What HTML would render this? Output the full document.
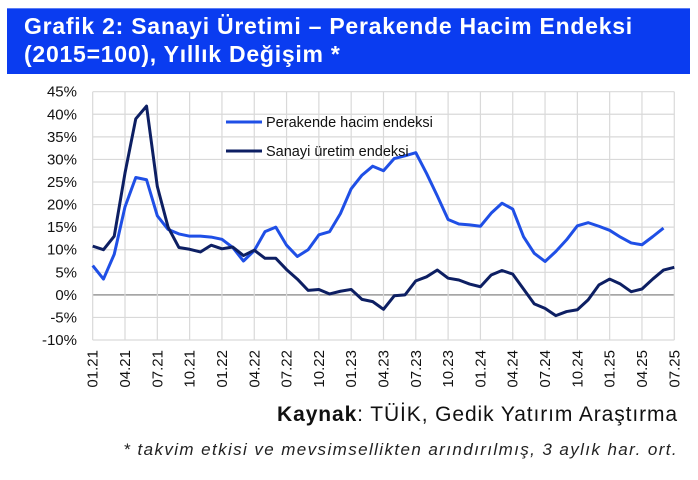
<!DOCTYPE html>
<html><head><meta charset="utf-8"><style>
body{margin:0;width:698px;height:480px;background:#fff;overflow:hidden;font-family:"Liberation Sans",sans-serif;}
#hdr{position:absolute;left:7px;top:8px;width:683px;height:66px;background:#0a3cf0;border-top:1px solid #5b7df5;box-sizing:border-box;}
#hdr div{position:absolute;left:17px;color:#fff;font-weight:bold;font-size:23px;letter-spacing:0.75px;white-space:nowrap;}
#src{position:absolute;right:20px;top:403px;font-size:21px;letter-spacing:0.9px;color:#111;white-space:nowrap;}
#note{position:absolute;right:20px;top:440px;font-size:17px;letter-spacing:1.4px;font-style:italic;color:#222;white-space:nowrap;}
</style></head><body>
<div id="hdr">
<div style="top:4px">Grafik 2: Sanayi Üretimi – Perakende Hacim Endeksi</div>
<div style="top:32px">(2015=100), Yıllık Değişim *</div>
</div>
<svg id="chart" width="698" height="480" style="position:absolute;left:0;top:0"></svg>
<div id="src"><b>Kaynak</b>: TÜİK, Gedik Yatırım Araştırma</div>
<div id="note">* takvim etkisi ve mevsimsellikten arındırılmış, 3 aylık har. ort.</div>
<script>
const xLabels=["01.21","04.21","07.21","10.21","01.22","04.22","07.22","10.22","01.23","04.23","07.23","10.23","01.24","04.24","07.24","10.24","01.25","04.25","07.25"];
const yTicks=[45,40,35,30,25,20,15,10,5,0,-5,-10];
const perakende=[6.5,3.5,9,19.5,26,25.5,17.5,14.5,13.5,13,13,12.8,12.3,10.5,7.5,9.8,14,15,11,8.5,10,13.3,14,18,23.5,26.5,28.5,27.5,30.2,30.8,31.5,26.9,21.9,16.7,15.7,15.5,15.2,18.1,20.3,19,12.9,9.2,7.4,9.6,12.2,15.3,16,15.2,14.3,12.8,11.5,11.1,12.9,14.8];
const sanayi=[10.8,10,13,27,39,41.8,24,15,10.5,10.1,9.5,11,10.2,10.6,8.7,9.9,8.1,8.1,5.6,3.5,1,1.2,0.2,0.8,1.2,-1,-1.5,-3.2,-0.2,0,3.1,4,5.5,3.7,3.3,2.4,1.8,4.4,5.4,4.6,1.3,-2,-3,-4.6,-3.7,-3.3,-1.1,2.2,3.5,2.4,0.7,1.3,3.5,5.5,6.1];
const svg=document.getElementById('chart');const NS='http://www.w3.org/2000/svg';
const x0=92.7,dx=10.77,yTop=91.7,yPer=4.515;
const X=m=>x0+m*dx, Y=v=>yTop+(45-v)*yPer;
function mk(t,a){const e=document.createElementNS(NS,t);for(const k in a)e.setAttribute(k,a[k]);svg.appendChild(e);return e;}
yTicks.forEach(v=>{const g=mk('line',{x1:x0,x2:X(54),y1:Y(v),y2:Y(v),stroke:v===0?'#999':'#d9d9d9','stroke-width':v===0?1.5:1.2});

const t=mk('text',{x:77,y:Y(v)+5,'text-anchor':'end','font-size':15,fill:'#111','font-family':'Liberation Sans'});t.textContent=v+'%';
});
xLabels.forEach((l,i)=>{const g=mk('line',{x1:X(i*3),x2:X(i*3),y1:yTop,y2:Y(-10),stroke:'#d9d9d9','stroke-width':1.2});

const t=mk('text',{transform:`translate(${X(i*3)+5},${Y(-10)+10}) rotate(-90)`,'text-anchor':'end','font-size':15,fill:'#111','font-family':'Liberation Sans'});t.textContent=l;
});
function line(d,c,n){const p=mk('polyline',{points:d.map((v,i)=>X(i)+','+Y(v)).join(' '),fill:'none',stroke:c,'stroke-width':3,'stroke-linejoin':'round'});
}
line(perakende,'#1f4fe6','perakende-line');line(sanayi,'#0d1f63','sanayi-line');
[['Perakende hacim endeksi','#1f4fe6',122],['Sanayi üretim endeksi','#0d1f63',151]].forEach(([l,c,y])=>{
const g=mk('line',{x1:226,x2:262,y1:y,y2:y,stroke:c,'stroke-width':3});
const t=mk('text',{x:266,y:y+5,'font-size':14.5,fill:'#111','font-family':'Liberation Sans'});t.textContent=l;
});
</script>
</body></html>
